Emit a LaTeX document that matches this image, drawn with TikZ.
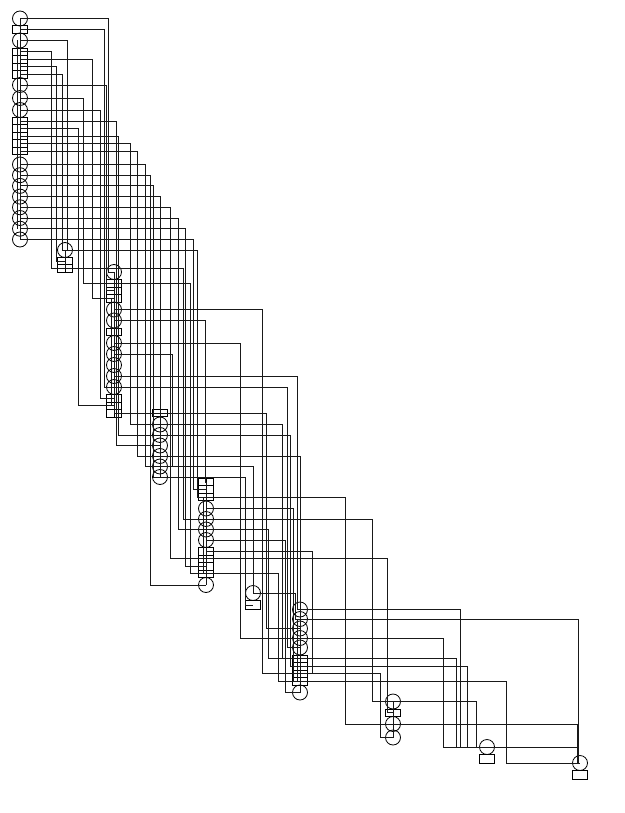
\documentclass[tikz,border=0pt]{standalone}
\usetikzlibrary{calc}
\tikzset{
  gate/.style={circle, draw, minimum size=15pt, inner sep=0pt, line width=0.8pt},
  port/.style={rectangle, draw, minimum width=15pt, minimum height=7.5pt, inner sep=0pt, line width=0.8pt,
    path picture={\draw[line width=0.8pt] (path picture bounding box.north) -- (path picture bounding box.south);}},
  plainport/.style={rectangle, draw, minimum width=15pt, minimum height=9pt, inner sep=0pt, line width=0.8pt},
  wire/.style={draw, line width=0.8pt, black!90}
}
\newcommand{\conn}[3]{\path[wire] let \p1=(#1.center) in (\p1) -- (#2pt,\y1) |- (#3.center);}
\begin{document}
\begin{tikzpicture}[x=1pt,y=-1pt]
\useasboundingbox (0,0) rectangle (624,813);
% column A
\foreach \n/\t/\y in {a1/gate/18.5,a2/port/29.5,a3/gate/40.5,a4/port/51.75,a5/port/59.25,a6/port/66.75,a7/port/74.25,
  a8/gate/85,a9/gate/98,a10/gate/110,a11/port/121,a12/port/128.5,a13/port/136,a14/port/143.5,a15/port/151,
  a16/gate/164.5,a17/gate/175.2,a18/gate/185.9,a19/gate/196.6,a20/gate/207.3,a21/gate/218,a22/gate/228.7,a23/gate/239.5}
  {\node[\t] (\n) at (20,\y) {};}
% column B
\foreach \n/\t/\y in {b1/gate/250,b2/port/261,b3/port/268.5}
  {\node[\t] (\n) at (65,\y) {};}
% column C
\foreach \n/\t/\y in {c1/gate/272,c2/port/283.25,c3/port/290.75,c4/port/298.25,c5/gate/309.5,c6/gate/320.5,c7/port/331.75,
  c8/gate/343,c9/gate/354,c10/gate/365,c11/gate/376,c12/gate/387,c13/port/398.25,c14/port/405.75,c15/port/413.25}
  {\node[\t] (\n) at (114,\y) {};}
% column D
\foreach \n/\t/\y in {d1/port/413,d2/gate/424.5,d3/gate/435,d4/gate/445.5,d5/gate/456,d6/gate/466.5,d7/gate/477}
  {\node[\t] (\n) at (160,\y) {};}
% column E
\foreach \n/\t/\y in {e1/port/482,e2/port/489.5,e3/port/497,e4/gate/508.5,e5/gate/519,e6/gate/529.5,e7/gate/540,
  e8/port/551.25,e9/port/558.75,e10/port/566.25,e11/port/573.75,e12/gate/585}
  {\node[\t] (\n) at (206,\y) {};}
% column F
\node[gate] (f1) at (253,593) {};
\node[plainport] (f2) at (253,605) {};
% column G
\foreach \n/\t/\y in {g1/gate/609.5,g2/gate/619,g3/gate/628.5,g4/gate/638,g5/gate/647.5,g6/port/658.75,g7/port/666.25,
  g8/port/673.75,g9/port/681.25,g10/gate/692.5}
  {\node[\t] (\n) at (300,\y) {};}
% column H
\foreach \n/\t/\y in {h1/gate/701.5,h2/port/712.75,h3/gate/724,h4/gate/737.5}
  {\node[\t] (\n) at (393,\y) {};}
% columns I, J
\node[gate] (i1) at (487,747) {};
\node[plainport] (i2) at (487,759) {};
\node[gate] (j1) at (580,763) {};
\node[plainport] (j2) at (580,775) {};
% connectors within columns
\path[wire] (a1.center) -- (a23.center);
\path[wire] ([xshift=-2.5pt]a3.center) -- ([xshift=-2.5pt]a22.center);
\path[wire] (b1.center) -- (b3.center);
\path[wire] (c1.center) -- (c15.center);
\path[wire] ([xshift=-3pt]c4.center) -- ([xshift=-3pt]c14.center);
\path[wire] (d1.center) -- (d7.center);
\path[wire] (e1.center) -- (e12.center);
\path[wire] ([xshift=-3pt]e3.center) -- ([xshift=-3pt]e11.center);
\path[wire] (g1.center) -- (g10.center);
\path[wire] ([xshift=-3pt]g2.center) -- ([xshift=-3pt]g9.center);
\path[wire] (h1.center) -- (h4.center);
% connectors between columns
\foreach \s/\v/\d in {a1/108/c1,a2/104/c12,a3/67/b1,a4/51/b3,a5/92/c4,a6/56/b2,a7/62/b1,a8/106/c3,a9/83/c2,
  a10/100/c13,a11/116/d4,a12/78/c14,a13/118/d3,a14/130/d2,a15/137/d5,a16/145/d6,a17/150/e12,a18/153/d7,
  a19/160/d1,a20/170/e9,a21/178/e6,a22/185/e10,a23/193/e2,b1/197/e3,b3/183/e5,c2/190/e11,
  c5/262/g8,c6/205/e1,c8/240/g4,c9/172/d6,c11/297/g1,c12/287/g5,c15/266/g3,
  d2/282/g6,d3/290/g7,d5/300/g2,d6/253/f1,d7/245/f2,
  e3/345/h3,e4/293/g9,e5/372/h1,e6/268/g6,e7/285/g10,e8/312/g8,e9/387/h2,e11/278/g9,
  f1/295/g2,g1/460/i1,g2/578/j1,g4/443/i1,g6/456/i1,g7/467/i1,g8/380/h4,g9/506/j1,
  h1/476/i1,h3/577/j1,i1/577/j1}
  {\conn{\s}{\v}{\d}}
\end{tikzpicture}
\end{document}
